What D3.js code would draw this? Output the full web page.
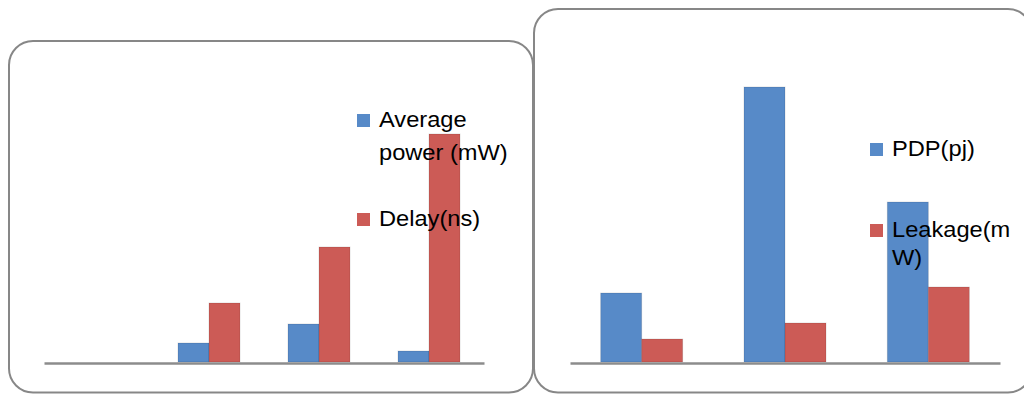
<!DOCTYPE html>
<html>
<head>
<meta charset="utf-8">
<script src="https://cdn.jsdelivr.net/npm/d3@7"></script>
<style>
  html, body { margin: 0; padding: 0; background: #fff; }
  svg { display: block; }
  text { font-family: "Liberation Sans", Arial, sans-serif; fill: #000; }
</style>
</head>
<body>
<svg id="chart" width="1024" height="394"></svg>
<script>
// ---- Data (no axis values shown) ----
const leftCategories = ["1", "2", "3", "4"];
const leftSeries = ["Average power (mW)", "Delay(ns)"];
const avgPower = [0, 0.19, 0.38, 0.11];
const delay = [0, 0.59, 1.15, 2.28];

const rightCategories = ["1", "2", "3"];
const rightSeries = ["PDP(pj)", "Leakage(mW)"];
const pdp = [0.69, 2.75, 1.60];
const leakage = [0.23, 0.39, 0.75];

const blue = "#578ac8";
const red = "#cc5b56";
const borderColor = "#878787";

const svg = d3.select("#chart");

// panel frames
function frame(x0, y0, x1, y1) {
  svg.append("rect")
    .attr("x", x0).attr("y", y0)
    .attr("width", x1 - x0).attr("height", y1 - y0)
    .attr("rx", 24).attr("ry", 24)
    .attr("fill", "none")
    .attr("stroke", borderColor)
    .attr("stroke-width", 2);
}

function barChart(opts) {
  const g = svg.append("g");
  const x = d3.scaleBand().domain(opts.categories)
    .range([opts.x0, opts.x1])
    .paddingInner(opts.pad).paddingOuter(opts.pad / 2);
  const xs = d3.scaleBand().domain(opts.series).range([0, x.bandwidth()]);
  const y = d3.scaleLinear().domain([0, opts.ymax]).range([opts.base, opts.base - opts.ymax * 100]);
  const rows = opts.categories.map((c, i) => ({ c, vals: opts.values.map(v => v[i]) }));

  const grp = g.selectAll("g.cat").data(rows).join("g")
    .attr("transform", d => `translate(${x(d.c)},0)`);
  grp.selectAll("rect").data(d => d.vals.map((v, j) => ({ v, s: opts.series[j], j })))
    .join("rect")
    .filter(d => d.v > 0)
    .attr("x", d => xs(d.s))
    .attr("width", xs.bandwidth())
    .attr("y", d => y(d.v))
    .attr("height", d => y(0) - y(d.v))
    .attr("fill", d => opts.colors[d.j])
    .attr("stroke", "rgba(0,0,0,0.12)")
    .attr("stroke-width", 1);

  const axis = d3.axisBottom(x).tickSize(0).tickFormat("");
  const ag = g.append("g").attr("transform", `translate(0,${opts.base + 1})`).call(axis);
  ag.select(".domain").attr("stroke", "#8c8c8c").attr("stroke-width", 2.5);

  // legend
  const lg = g.append("g");
  opts.legend.forEach((L, j) => {
    lg.append("rect").attr("x", L.x).attr("y", L.y - 13).attr("width", 13).attr("height", 13)
      .attr("fill", opts.colors[j]);
    const tx = L.x + 22;
    const t = lg.append("text")
      .attr("transform", `translate(${tx},0) scale(1.1,1)`)
      .attr("font-size", 21.5);
    L.lines.forEach((ln, k) => {
      t.append("tspan").attr("x", 0).attr("y", L.y + k * L.dy).text(ln);
    });
  });
}

frame(9, 41, 533, 392.5);
frame(534, 9, 1032, 392.5);

barChart({
  categories: leftCategories, series: leftSeries, values: [avgPower, delay],
  colors: [blue, red], x0: 44, x1: 484, pad: 0.4364, base: 362, ymax: 2.5,
  legend: [
    { x: 357, y: 127, lines: ["Average", "power (mW)"], dy: 33 },
    { x: 357, y: 226, lines: ["Delay(ns)"], dy: 0 }
  ]
});

barChart({
  categories: rightCategories, series: rightSeries, values: [pdp, leakage],
  colors: [blue, red], x0: 570, x1: 1000, pad: 0.428, base: 362, ymax: 3,
  legend: [
    { x: 870, y: 156, lines: ["PDP(pj)"], dy: 0 },
    { x: 870, y: 237, lines: ["Leakage(m", "W)"], dy: 28 }
  ]
});
</script>
</body>
</html>
